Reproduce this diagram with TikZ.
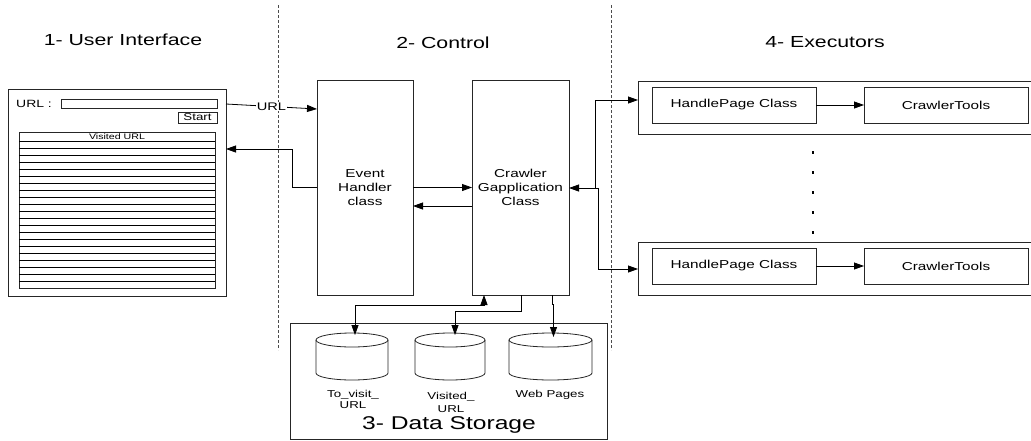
\documentclass[tikz,border=0pt]{standalone}
\usepackage{fontspec}
\setmainfont[FakeStretch=1.33]{Liberation Sans}
\usetikzlibrary{arrows.meta}
\begin{document}
\begin{tikzpicture}[x=1pt,y=-1pt,
  box/.style={draw=black!85, line width=0.8pt, rectangle, inner sep=0pt, outer sep=0pt, align=center},
  arr/.style={-{Triangle[length=10pt,width=7pt]}, line width=0.8pt},
  arrboth/.style={{Triangle[length=10pt,width=7pt]}-{Triangle[length=10pt,width=7pt]}, line width=0.8pt},
  sep/.style={draw=black!70, line width=0.7pt, dash pattern=on 3pt off 2pt},
  titlefont/.style={font=\fontsize{16}{19}\selectfont},
  boxfont/.style={font=\fontsize{11.5}{14}\selectfont},
  cylfont/.style={font=\fontsize{9.5}{12}\selectfont, align=center, inner sep=0pt},
  cyl/.style={draw=black!85, line width=0.8pt}
]
\useasboundingbox (0,0) rectangle (1031,440);
\clip (0,0) rectangle (1031,440);

% separators
\draw[sep] (278,5) -- (278,350);
\draw[sep] (611,5) -- (611,350);

% titles
\node[titlefont] (t1) at (123,40) {1- User Interface};
\node[titlefont] (t2) at (443,43) {2- Control};
\node[titlefont] (t4) at (825,42) {4- Executors};

% user interface
\node[box, minimum width=218pt, minimum height=207pt] (ui) at (117,192.5) {};
\node[font=\fontsize{10.5}{12}\selectfont, anchor=west, inner sep=0pt] (urllbl) at (16,104) {URL :};
\node[box, line width=0.6pt, minimum width=156pt, minimum height=9pt] (urlfield) at (139,103.5) {};
\node[box, line width=0.6pt, minimum width=39pt, minimum height=11pt, font=\fontsize{10}{11}\selectfont] (start) at (197.5,117.5) {Start};
\node[box, line width=0.6pt, minimum width=196pt, minimum height=156pt] (list) at (117,210) {};
\node[font=\fontsize{8}{9}\selectfont, inner sep=0pt] (vis) at (117,136.5) {Visited URL};
\foreach \y in {141,148,...,281}
  \draw[line width=0.6pt] (list.west |- 0,\y) -- (list.east |- 0,\y);

% control
\node[box, boxfont, minimum width=96pt, minimum height=215pt] (eh) at (365,187.5) {Event\\Handler\\class};
\node[box, boxfont, minimum width=97pt, minimum height=215pt] (cr) at (520.5,187.5) {Crawler\\Gapplication\\Class};

% executors
\node[box, minimum width=402pt, minimum height=53pt] (ex1) at (839,107.5) {};
\node[box, boxfont, minimum width=164pt, minimum height=36pt] (hp1) at (734,105) {HandlePage Class};
\node[box, boxfont, minimum width=164pt, minimum height=36pt] (ct1) at (946,105) {CrawlerTools};
\node[box, minimum width=402pt, minimum height=53pt] (ex2) at (839,268.5) {};
\node[box, boxfont, minimum width=164pt, minimum height=36pt] (hp2) at (734,266) {HandlePage Class};
\node[box, boxfont, minimum width=164pt, minimum height=36pt] (ct2) at (946,266) {CrawlerTools};
\foreach \y in {151,171,191,211,231}
  \fill (811.8,\y) rectangle +(2.5,2.5);

% data storage
\node[box, minimum width=317pt, minimum height=116pt] (ds) at (448.5,381) {};
\node[font=\fontsize{18.5}{21}\selectfont, inner sep=0pt] (dstitle) at (449,425) {3- Data Storage};
\foreach \cx/\rx/\n in {352/36/c1, 450/35/c2, 550.5/41.5/c3} {
  \draw[cyl] (\cx-\rx,340) -- (\cx-\rx,373) arc[start angle=180, end angle=0, x radius=\rx, y radius=7] -- (\cx+\rx,340);
  \draw[cyl] (\cx,340) ellipse[x radius=\rx, y radius=7];
  \node[inner sep=0pt, minimum width=2*\rx pt, minimum height=47pt] (\n) at (\cx,356.5) {};
}
\node[cylfont, font=\fontsize{10}{11}\selectfont] (l1) at (353,399.5) {To\_visit\_\\URL};
\node[cylfont, font=\fontsize{10}{13}\selectfont] (l2) at (451,402.5) {Visited\_\\URL};
\node[cylfont, font=\fontsize{10}{12}\selectfont] (l3) at (550,395) {Web Pages};

% connectors
\draw[arr] (ui.east |- 0,104) -- node[fill=white, inner sep=1pt, font=\fontsize{11}{12}\selectfont] (urltxt) {URL} (eh.west |- 0,109);
\draw[arr] (eh.west) -- (292,187.5) |- (ui.east |- 0,149);
\draw[arr] (eh.east) -- (cr.west);
\draw[arr] (cr.west |- 0,206) -- (eh.east |- 0,206);

\coordinate (jn) at (595,188);
\draw[arr] (jn) -- (cr.east |- jn);
\draw[arr] (jn) |- (ex1.west |- 0,100);
\draw[arr] (jn) -- (598,188) |- (ex2.west |- 0,269);
\draw[arr] (hp1.east) -- (ct1.west);
\draw[arr] (hp2.east) -- (ct2.west);

\coordinate (c1top) at (355,335);
\coordinate (c2top) at (455,335);
\coordinate (c3top) at (553.5,337);
\coordinate (pA) at (484,305);
\coordinate (pB) at (521,311);
\draw[arrboth] (cr.south -| pA) -- (pA) -| (c1top);
\draw[arr] (cr.south -| pB) -- (pB) -| (c2top);
\draw[arr] (cr.south -| 552,0) -- (552,304) -- (553.5,304) -- (c3top);
\end{tikzpicture}
\end{document}
